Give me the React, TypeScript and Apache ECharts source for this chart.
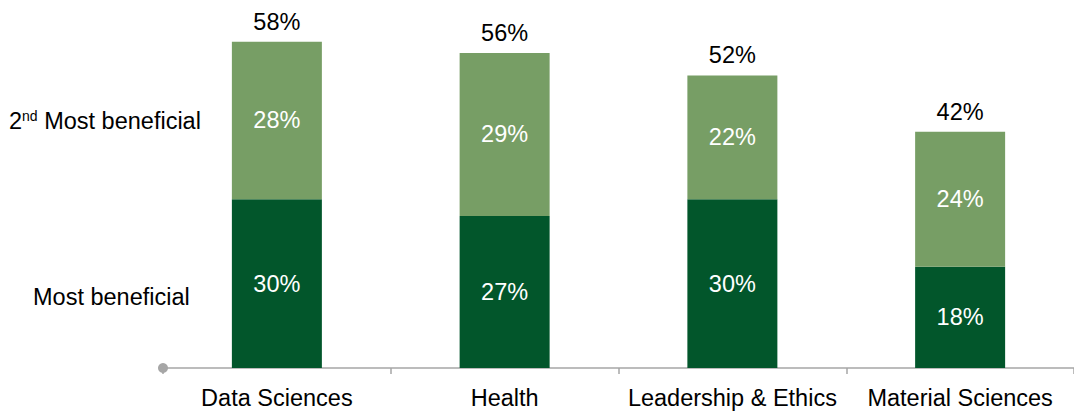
import React, { useEffect, useRef } from "react";
import * as echarts from "echarts";

const categories = ["Data Sciences", "Health", "Leadership & Ethics", "Material Sciences"];
const mostBeneficial = [30, 27, 30, 18];
const secondMostBeneficial = [28, 29, 22, 24];
const totals = [58, 56, 52, 42];
const seriesNames = ["Most beneficial", "2nd Most beneficial"];

const DARK = "#02562B";
const LIGHT = "#779E65";
const AXIS = "#A6A6A6";
const FONT = "Liberation Sans, Arial, sans-serif";
const FS = 23.5;

export default function App() {
  const ref = useRef<HTMLDivElement>(null);
  useEffect(() => {
    if (!ref.current) return;
    const chart = echarts.init(ref.current, null, { renderer: "svg" });
    chart.setOption({
      animation: false,
      textStyle: { fontFamily: FONT },
      grid: { left: 163, top: 0, height: 368, width: 916 },
      xAxis: {
        type: "category",
        data: categories,
        axisLine: {
          show: true,
          lineStyle: { color: AXIS, width: 1.5 },
        },
        axisTick: {
          show: true,
          length: 6,
          lineStyle: { color: AXIS, width: 1.5 },
          interval: 0,
        },
        axisLabel: { color: "#000", fontSize: FS, margin: 18, fontFamily: FONT, interval: 0 },
      },
      yAxis: {
        type: "value",
        min: 0,
        max: 65.4,
        show: false,
        splitLine: { show: false },
      },
      graphic: [
        {
          type: "circle",
          x: 163,
          y: 368,
          z: 100,
          shape: { cx: 0, cy: 0, r: 5 },
          style: { fill: AXIS },
        },
        {
          type: "text",
          x: 33,
          y: 297,
          style: {
            text: "Most beneficial",
            fontSize: FS,
            fill: "#000",
            fontFamily: FONT,
            verticalAlign: "middle",
          },
        },
        {
          type: "text",
          x: 9,
          y: 121,
          style: {
            text: "2{sup|nd} Most beneficial",
            fontSize: FS,
            fill: "#000",
            fontFamily: FONT,
            verticalAlign: "middle",
            rich: {
              sup: {
                fontSize: 14,
                verticalAlign: "top",
                padding: [0, 0, 10, 0],
                fontFamily: FONT,
                fill: "#000",
              },
            },
          },
        },
      ],
      series: [
        {
          name: seriesNames[0],
          type: "bar",
          stack: "total",
          data: mostBeneficial,
          barWidth: 90,
          itemStyle: { color: DARK },
          label: {
            show: true,
            position: "inside",
            color: "#fff",
            fontSize: FS,
            fontFamily: FONT,
            formatter: (p: any) => p.value + "%",
          },
        },
        {
          name: seriesNames[1],
          type: "bar",
          stack: "total",
          data: secondMostBeneficial,
          barWidth: 90,
          itemStyle: { color: LIGHT },
          label: {
            show: true,
            position: "inside",
            color: "#fff",
            fontSize: FS,
            fontFamily: FONT,
            formatter: (p: any) => p.value + "%",
          },
        },
        {
          name: "Total",
          type: "bar",
          stack: "total",
          data: totals.map(() => 0),
          barWidth: 90,
          itemStyle: { color: "transparent" },
          label: {
            show: true,
            position: "top",
            distance: 8,
            color: "#000",
            fontSize: FS,
            fontFamily: FONT,
            formatter: (p: any) => totals[p.dataIndex] + "%",
          },
        },
      ],
    });
    return () => chart.dispose();
  }, []);
  return (
    <div
      ref={ref}
      style={{ position: "absolute", left: 0, top: 0, width: 1074, height: 411, background: "#fff" }}
    />
  );
}
